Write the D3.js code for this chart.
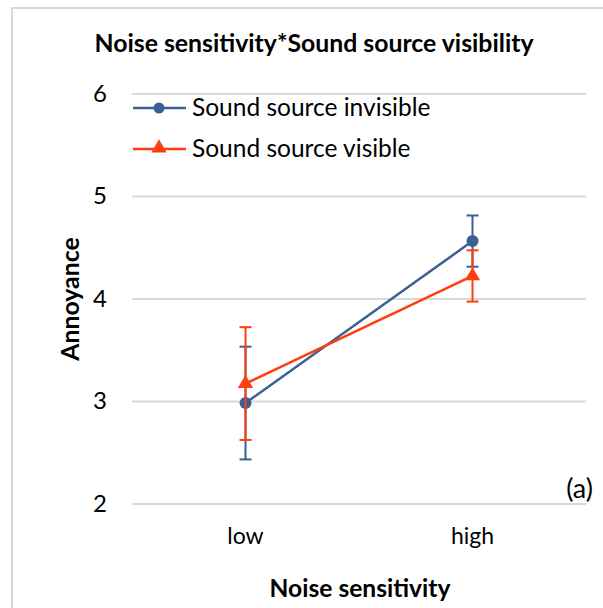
<!DOCTYPE html>
<html>
<head>
<meta charset="utf-8">
<script src="https://cdn.jsdelivr.net/npm/d3@7"></script>
<style>
  html, body { margin: 0; padding: 0; background: #fff; }
  svg { display: block; font-family: Lato, "Open Sans", sans-serif; }
</style>
</head>
<body>
<svg id="chart" width="603" height="608"></svg>
<script>
// Interaction plot: noise sensitivity × sound source visibility
const categories = ["low", "high"];
const seriesNames = ["Sound source invisible", "Sound source visible"];
const invisibleMeans = [2.98, 4.56];
const invisibleErrors = [0.55, 0.25];
const visibleMeans = [3.17, 4.22];
const visibleErrors = [0.55, 0.25];
const yTicks = [2, 3, 4, 5, 6];

const series = [
  { name: seriesNames[0], means: invisibleMeans, errors: invisibleErrors, color: "#3a6096", marker: "circle" },
  { name: seriesNames[1], means: visibleMeans, errors: visibleErrors, color: "#ff3d0d", marker: "triangle" }
];

const svg = d3.select("#chart");
const W = 603, H = 608;
const plot = { left: 132, right: 586, top: 93.5, bottom: 503.5 };

// chart frame
svg.append("rect")
  .attr("x", 12).attr("y", 8)
  .attr("width", W + 20).attr("height", H + 20)
  .attr("fill", "#fff").attr("stroke", "#d9d9d9").attr("stroke-width", 2);

const x = d3.scaleBand().domain(categories).range([plot.left, plot.right]);
const y = d3.scaleLinear().domain([2, 6]).range([plot.bottom, plot.top]);
const cx = c => x(c) + x.bandwidth() / 2;

// gridlines + y axis labels
const yAxis = d3.axisLeft(y).tickValues(yTicks).tickFormat(d3.format("d"))
  .tickSize(-(plot.right - plot.left)).tickPadding(25);
const gy = svg.append("g").attr("transform", `translate(${plot.left},0)`).call(yAxis);
gy.select(".domain").remove();
gy.selectAll(".tick line").attr("stroke", "#d9d9d9").attr("stroke-width", 2);
gy.selectAll(".tick text")
  .attr("font-family", "Lato, sans-serif").attr("font-size", 24).attr("fill", "#000");

// x axis labels
const xAxis = d3.axisBottom(x).tickSize(0).tickPadding(24);
const gx = svg.append("g").attr("transform", `translate(0,${plot.bottom})`).call(xAxis);
gx.select(".domain").remove();
gx.selectAll(".tick text")
  .attr("font-family", "Lato, sans-serif").attr("font-size", 23).attr("fill", "#000");

// title and axis titles
svg.append("text")
  .attr("x", 314).attr("y", 52).attr("text-anchor", "middle")
  .attr("font-weight", "bold").attr("font-size", 24.8).attr("fill", "#000")
  .text("Noise sensitivity*Sound source visibility");

svg.append("text")
  .attr("transform", "translate(79,299) rotate(-90)").attr("text-anchor", "middle")
  .attr("font-weight", "bold").attr("font-size", 24.8).attr("fill", "#000")
  .text("Annoyance");

svg.append("text")
  .attr("x", 360).attr("y", 597).attr("text-anchor", "middle")
  .attr("font-weight", "bold").attr("font-size", 24.6).attr("fill", "#000")
  .text("Noise sensitivity");

svg.append("text")
  .attr("x", 593).attr("y", 498).attr("text-anchor", "end")
  .attr("font-size", 27).attr("fill", "#000")
  .text("(a)");

const triangle = d3.symbol().type(d3.symbolTriangle).size(100);

// series: error bars, lines, markers
const line = d3.line().x((d, i) => cx(categories[i])).y(d => y(d));
series.forEach(s => {
  const g = svg.append("g");
  s.means.forEach((m, i) => {
    const px = cx(categories[i]);
    const top = y(m + s.errors[i]), bot = y(m - s.errors[i]);
    g.append("line").attr("x1", px).attr("x2", px).attr("y1", top).attr("y2", bot)
      .attr("stroke", s.color).attr("stroke-width", 2);
    [top, bot].forEach(yy => g.append("line")
      .attr("x1", px - 6).attr("x2", px + 6).attr("y1", yy).attr("y2", yy)
      .attr("stroke", s.color).attr("stroke-width", 2));
  });
  g.append("path").attr("d", line(s.means))
    .attr("fill", "none").attr("stroke", s.color).attr("stroke-width", 2.5);
  s.means.forEach((m, i) => {
    const px = cx(categories[i]);
    if (s.marker === "circle") {
      g.append("circle").attr("cx", px).attr("cy", y(m)).attr("r", 6).attr("fill", s.color);
    } else {
      g.append("path").attr("d", triangle).attr("transform", `translate(${px},${y(m)})`).attr("fill", s.color);
    }
  });
});

// legend
const legend = svg.append("g");
series.forEach((s, i) => {
  const ly = 108 + i * 41;
  legend.append("line").attr("x1", 133).attr("x2", 186).attr("y1", ly).attr("y2", ly)
    .attr("stroke", s.color).attr("stroke-width", 2.5);
  if (s.marker === "circle") {
    legend.append("circle").attr("cx", 159).attr("cy", ly).attr("r", 5.5).attr("fill", s.color);
  } else {
    legend.append("path").attr("d", triangle).attr("transform", `translate(159,${ly - 1})`).attr("fill", s.color);
  }
  legend.append("text").attr("x", 192).attr("y", ly + 8)
    .attr("font-size", 24.5).attr("fill", "#000").text(s.name);
});
</script>
</body>
</html>
